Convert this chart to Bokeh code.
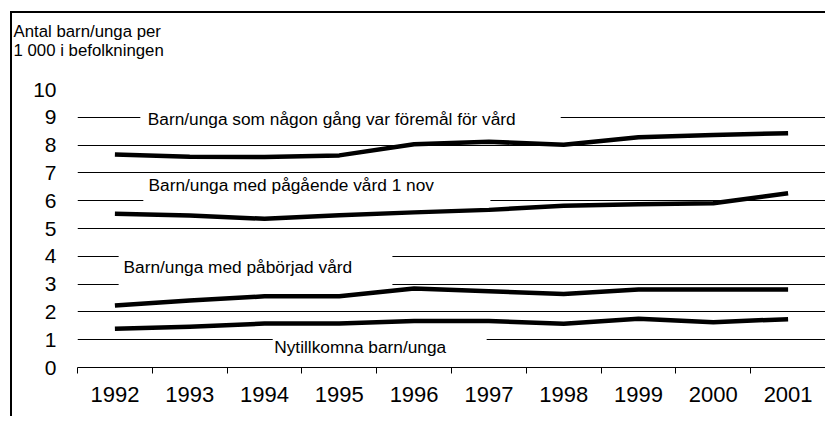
from bokeh.plotting import figure
from bokeh.models import Range1d, FixedTicker, Label, BoxAnnotation, Title
from bokeh.embed import file_html
from bokeh.resources import INLINE

years = [1992, 1993, 1994, 1995, 1996, 1997, 1998, 1999, 2000, 2001]
year_labels = ["1992", "1993", "1994", "1995", "1996", "1997", "1998", "1999", "2000", "2001"]
ever_in_care = [7.66, 7.58, 7.57, 7.63, 8.03, 8.12, 8.01, 8.28, 8.36, 8.43]
ongoing_nov1 = [5.53, 5.47, 5.35, 5.48, 5.58, 5.67, 5.82, 5.87, 5.91, 6.27]
started_care = [2.23, 2.41, 2.56, 2.56, 2.84, 2.74, 2.64, 2.81, 2.81, 2.81]
new_children = [1.39, 1.47, 1.58, 1.58, 1.67, 1.67, 1.57, 1.75, 1.63, 1.74]
series_names = [
    "Barn/unga som någon gång var föremål för vård",
    "Barn/unga med pågående vård 1 nov",
    "Barn/unga med påbörjad vård",
    "Nytillkomna barn/unga",
]
y_title = "Antal barn/unga per\n1 000 i befolkningen"
y_ticks = [0, 1, 2, 3, 4, 5, 6, 7, 8, 9, 10]

FONT = "Liberation Sans"

p = figure(width=815, height=405, output_backend="svg", toolbar_location=None,
           title=None,
           x_range=Range1d(1991.5, 2001.5), y_range=Range1d(0, 10),
           min_border_left=65, min_border_right=2, min_border_top=76, min_border_bottom=51)
p.styles = {"border-left": "2px solid black", "border-top": "2px solid black",
            "margin-left": "10px", "margin-top": "11px"}
p.outline_line_color = None
p.background_fill_color = "white"
p.border_fill_color = "white"

# title (two lines) in the area above the plot
t = Title(text=y_title, align="left", offset=-64, standoff=16, vertical_align="top",
          padding=dict(left=0, right=0, top=0, bottom=20),
          text_font=FONT, text_font_size="16.8px", text_font_style="normal",
          text_color="black", text_line_height=1.0)
p.add_layout(t, "above")

# grids
p.xgrid.visible = False
p.ygrid.ticker = FixedTicker(ticks=y_ticks)
p.ygrid.grid_line_color = "black"
p.ygrid.grid_line_width = 1

# x axis: labels at year centres, ticks between years
bounds = [y - 0.5 for y in years] + [years[-1] + 0.5]
xa = p.xaxis[0]
xa.ticker = FixedTicker(ticks=years, minor_ticks=bounds)
xa.major_label_overrides = {y: l for y, l in zip(years, year_labels)}
xa.major_tick_out = 0
xa.major_tick_in = 0
xa.minor_tick_out = 6
xa.minor_tick_in = 0
xa.minor_tick_line_color = "black"
xa.axis_line_color = "black"
xa.major_label_standoff = 13
xa.major_label_text_font = FONT
xa.major_label_text_font_size = "22px"
xa.major_label_text_color = "black"

ya = p.yaxis[0]
ya.ticker = FixedTicker(ticks=y_ticks)
ya.axis_line_color = None
ya.major_tick_line_color = None
ya.minor_tick_line_color = None
ya.major_tick_out = 0
ya.major_tick_in = 0
ya.major_label_standoff = 21
ya.major_label_text_font = FONT
ya.major_label_text_font_size = "21px"
ya.major_label_text_color = "black"

for vals in [ever_in_care, ongoing_nov1, started_care, new_children]:
    p.line(years, vals, line_color="black", line_width=4.5, line_join="round")

# white label boxes interrupting gridlines
boxes = [
    (1992.34, 1997.96, 8.53, 9.32),
    (1992.38, 1997.02, 5.95, 6.96),
    (1992.05, 1995.71, 2.93, 4.14),
    (1994.11, 1996.97, 0.22, 1.29),
]
for l, r, b, tp in boxes:
    p.add_layout(BoxAnnotation(left=l, right=r, bottom=b, top=tp,
                               fill_color="white", fill_alpha=1.0, line_color=None))

label_pos = [(1992.44, 8.94), (1992.45, 6.58), (1992.115, 3.63), (1994.13, 0.755)]
for name, (lx, ly) in zip(series_names, label_pos):
    p.add_layout(Label(x=lx, y=ly, text=name, text_font=FONT, text_font_size="17.3px",
                       text_baseline="middle", text_align="left", text_color="black"))

open("out.html", "w").write(file_html(p, INLINE))
